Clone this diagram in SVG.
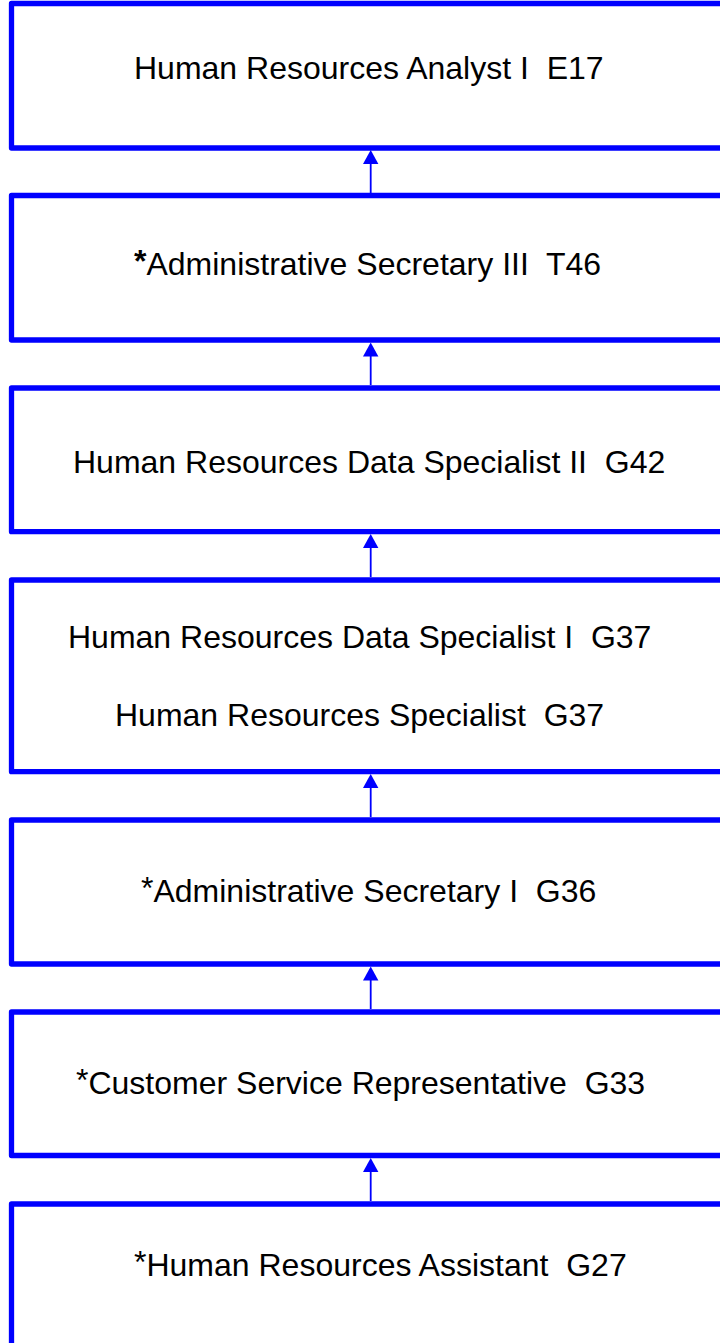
<svg xmlns="http://www.w3.org/2000/svg" width="720" height="1343" viewBox="0 0 720 1343">
<style>
.box{fill:#fff;stroke:#0000ff;stroke-width:5.3;stroke-linejoin:round}
.t{font-family:"Liberation Sans",Arial,sans-serif;font-size:32px;fill:#000;white-space:pre}
.c{stroke:#0000ff;stroke-width:1.8;fill:none}
.ah{fill:#0000ff}
</style>
<rect width="720" height="1343" fill="#fff"/>
<g id="n1"><rect class="box" x="11.5" y="3.5" width="720" height="144.5"/><text class="t" x="134" y="79" xml:space="preserve">Human Resources Analyst I  E17</text></g>
<g id="n2"><rect class="box" x="11.5" y="195.5" width="720" height="144.5"/><text class="t" x="134" y="275" xml:space="preserve"><tspan font-weight="bold" dy="-3">*</tspan><tspan dy="3">Administrative Secretary III  T46</tspan></text></g>
<g id="n3"><rect class="box" x="11.5" y="388" width="720" height="143.7"/><text class="t" x="73" y="473" xml:space="preserve">Human Resources Data Specialist II  G42</text></g>
<g id="n4"><rect class="box" x="11.5" y="580" width="720" height="191.7"/><text class="t" x="68" y="648" xml:space="preserve">Human Resources Data Specialist I  G37</text><text class="t" x="115" y="726" xml:space="preserve">Human Resources Specialist  G37</text></g>
<g id="n5"><rect class="box" x="11.5" y="820" width="720" height="144"/><text class="t" x="141" y="902" xml:space="preserve"><tspan dy="-3">*</tspan><tspan dy="3">Administrative Secretary I  G36</tspan></text></g>
<g id="n6"><rect class="box" x="11.5" y="1012" width="720" height="143.5"/><text class="t" x="76" y="1094" xml:space="preserve"><tspan dy="-3">*</tspan><tspan dy="3">Customer Service Representative  G33</tspan></text></g>
<g id="n7"><rect class="box" x="11.5" y="1204" width="720" height="144"/><text class="t" x="134" y="1276" xml:space="preserve"><tspan dy="-3">*</tspan><tspan dy="3">Human Resources Assistant  G27</tspan></text></g>
<g id="connectors">
<line class="c" x1="370.7" y1="193" x2="370.7" y2="162"/><path class="ah" d="M370.7,150 L363,164 L378.4,164 Z"/>
<line class="c" x1="370.7" y1="385" x2="370.7" y2="354"/><path class="ah" d="M370.7,342.5 L363,356.5 L378.4,356.5 Z"/>
<line class="c" x1="370.7" y1="577" x2="370.7" y2="546"/><path class="ah" d="M370.7,534 L363,548 L378.4,548 Z"/>
<line class="c" x1="370.7" y1="817" x2="370.7" y2="786"/><path class="ah" d="M370.7,774 L363,788 L378.4,788 Z"/>
<line class="c" x1="370.7" y1="1009" x2="370.7" y2="978"/><path class="ah" d="M370.7,966.5 L363,980.5 L378.4,980.5 Z"/>
<line class="c" x1="370.7" y1="1201" x2="370.7" y2="1170"/><path class="ah" d="M370.7,1158 L363,1172 L378.4,1172 Z"/>
</g>
</svg>
